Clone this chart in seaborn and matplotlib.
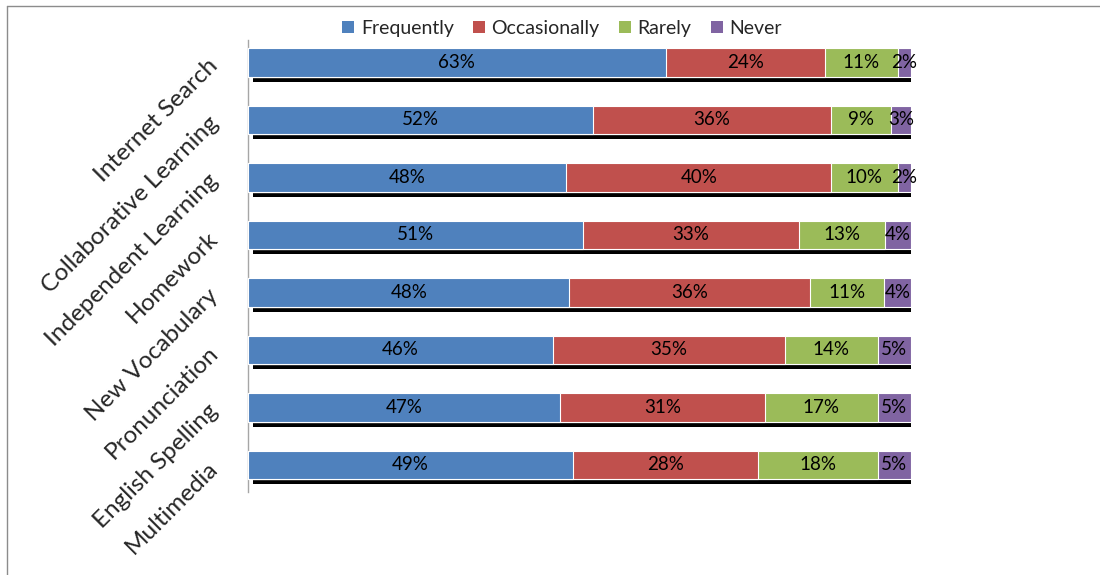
import numpy as np
import pandas as pd
import matplotlib
matplotlib.use("Agg")
import matplotlib.pyplot as plt
import matplotlib.patheffects as pe
from matplotlib.patches import Patch
from matplotlib.lines import Line2D
import seaborn as sns

categories = ["Internet Search", "Collaborative Learning", "Independent Learning",
              "Homework", "New Vocabulary", "Pronunciation", "English Spelling",
              "Multimedia"]
frequently = [63, 52, 48, 51, 48, 46, 47, 49]
occasionally = [24, 36, 40, 33, 36, 35, 31, 28]
rarely = [11, 9, 10, 13, 11, 14, 17, 18]
never = [2, 3, 2, 4, 4, 5, 5, 5]

series_names = ["Frequently", "Occasionally", "Rarely", "Never"]
series_values = [frequently, occasionally, rarely, never]
colors = ["#4F81BD", "#C0504D", "#9BBB59", "#8064A2"]

sns.set_style("white")
plt.rcParams["font.family"] = ["Lato", "DejaVu Sans"]

fig = plt.figure(figsize=(11, 5.75), dpi=100)
ax = fig.add_axes([0.2255, 0.1443, 0.828 - 0.2255, 0.9304 - 0.1443])

vals = np.array(series_values, dtype=float)
# 100% stacked: each row scaled to its own total
shares = vals / vals.sum(axis=0) * 100
cum = np.cumsum(shares, axis=0)

# Stack by drawing cumulative totals from the longest down to the shortest
for i in range(len(series_names) - 1, -1, -1):
    df = pd.DataFrame({"category": categories, "value": cum[i]})
    sns.barplot(data=df, x="value", y="category", order=categories,
                color=colors[i], saturation=1, width=0.5, orient="h",
                edgecolor="white", linewidth=0.8, ax=ax, zorder=2 + (3 - i))
    if i == len(series_names) - 1:
        for p in ax.patches:
            p.set_path_effects([pe.SimplePatchShadow(offset=(3.6, -3.6),
                                                     shadow_rgbFace="black",
                                                     alpha=1.0),
                                pe.Normal()])

# Segment labels centred in each piece
for i in range(len(series_names)):
    for j, cat in enumerate(categories):
        center = cum[i][j] - shares[i][j] / 2
        ax.text(center, j, f"{int(vals[i][j])}%", ha="center", va="center",
                fontsize=13.5, color="black", zorder=10, clip_on=False)

ax.set_xlim(0, 100)
ax.set_ylim(7.47, -0.39)
ax.set_xlabel("")
ax.set_ylabel("")
ax.set_xticks([])
for s in ["top", "right", "bottom"]:
    ax.spines[s].set_visible(False)
ax.spines["left"].set_color("#A6A6A6")
ax.spines["left"].set_linewidth(1.0)

ax.set_yticks(range(len(categories)))
ax.set_yticklabels(categories, rotation=45, ha="right", va="center",
                   rotation_mode="anchor", fontsize=17.5)
ax.tick_params(axis="y", length=0, pad=24)

handles = [Patch(facecolor=c, edgecolor="none") for c in colors]
fig.legend(handles, series_names, loc="center", bbox_to_anchor=(0.511, 0.951),
           ncol=4, frameon=False, fontsize=14, handlelength=0.6,
           handleheight=0.6, handletextpad=0.35, columnspacing=1.0)

# Chart area border (left and top edges)
bx, by = 6.5 / 1100, 1 - 5.5 / 575
fig.add_artist(Line2D([bx, bx], [0, by], transform=fig.transFigure,
                      color="#8C8C8C", linewidth=1.0))
fig.add_artist(Line2D([bx, 1], [by, by], transform=fig.transFigure,
                      color="#8C8C8C", linewidth=1.0))

fig.savefig("out.png", dpi=100, facecolor="white")
